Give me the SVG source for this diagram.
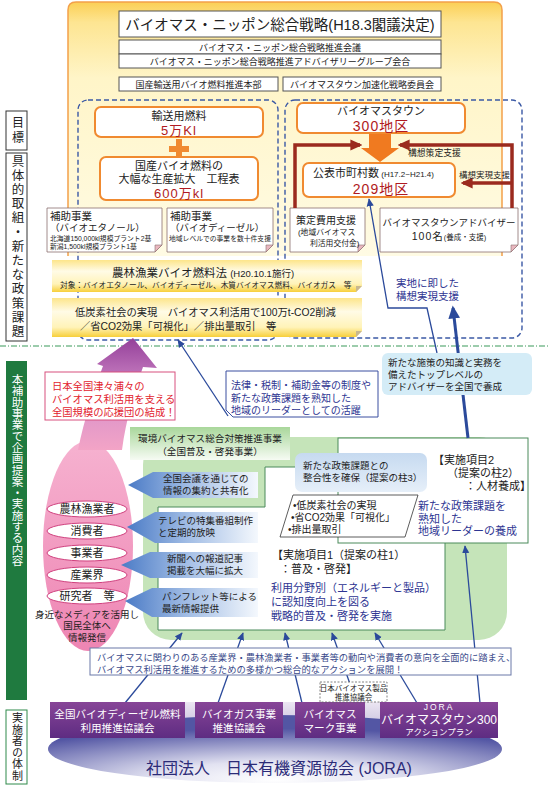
<svg xmlns="http://www.w3.org/2000/svg" width="550" height="788" viewBox="0 0 550 788">
<defs>
<style>
text{font-family:"Liberation Sans","Noto Sans CJK JP",sans-serif;fill:#222}
.c{text-anchor:middle}
.red{fill:#b01a22}
.blu{fill:#2e3592}
.wt{fill:#fff}
.ob{fill:#fff;stroke:#f08a30;stroke-width:2}
.gb{fill:#fff;stroke:#555;stroke-width:1}
.dash{fill:none;stroke:#3b59a5;stroke-width:1.4;stroke-dasharray:5 3}
.brn{fill:none;stroke:#9b2a1e;stroke-width:3.5}
.bl{fill:none;stroke:#2b4a9b;stroke-width:1.3}
.fold{fill:#fff;stroke:#8a7070;stroke-width:0.8}
.foldc{fill:#e9b7bf;stroke:#8a7070;stroke-width:0.6}
.call{fill:url(#gCall)}
.pill{fill:#fff;stroke:#d0407e;stroke-width:1}
.pbox{fill:url(#gPurp)}
.side{fill:#fff;stroke:#333;stroke-width:1}
.pk{fill:#e2232e}
.nt{fill:#3a4a8a}
</style>
<linearGradient id="gTop" x1="0" y1="0" x2="0" y2="1">
<stop offset="0" stop-color="#fbcf55"/><stop offset="0.08" stop-color="#fde592"/><stop offset="0.3" stop-color="#fff5c8"/><stop offset="1" stop-color="#fffbe4"/>
</linearGradient>
<linearGradient id="gBand" x1="0" y1="0" x2="0" y2="1">
<stop offset="0" stop-color="#fde58a"/><stop offset="0.35" stop-color="#fffbe6"/><stop offset="0.75" stop-color="#fff3b8"/><stop offset="1" stop-color="#f7cf3a"/>
</linearGradient>
<linearGradient id="gPinkArr" gradientUnits="userSpaceOnUse" x1="0" y1="450" x2="0" y2="338">
<stop offset="0" stop-color="#f3a4c6"/><stop offset="0.5" stop-color="#d58fcb"/><stop offset="1" stop-color="#94409a"/>
</linearGradient>
<linearGradient id="gPink" x1="0" y1="0" x2="0" y2="1">
<stop offset="0" stop-color="#f6b2d0"/><stop offset="1" stop-color="#ee85b3"/>
</linearGradient>
<linearGradient id="gCall" x1="0" y1="0" x2="1" y2="0">
<stop offset="0" stop-color="#4b7bc6"/><stop offset="0.45" stop-color="#9fbbe4"/><stop offset="1" stop-color="#f4f8fd"/>
</linearGradient>
<linearGradient id="gHead" x1="0" y1="0" x2="0" y2="1">
<stop offset="0" stop-color="#a9d79b"/><stop offset="1" stop-color="#f6fbf3"/>
</linearGradient>
<linearGradient id="gLB" x1="0" y1="0" x2="0" y2="1">
<stop offset="0" stop-color="#c6daf0"/><stop offset="1" stop-color="#e6eff9"/>
</linearGradient>
<linearGradient id="gPurp" x1="0" y1="0" x2="0" y2="1">
<stop offset="0" stop-color="#874597"/><stop offset="1" stop-color="#5e2c82"/>
</linearGradient>
<linearGradient id="gLav" x1="0" y1="0" x2="0" y2="1">
<stop offset="0" stop-color="#ece6f2"/><stop offset="1" stop-color="#b9b2d6"/>
</linearGradient>
<radialGradient id="gJora" cx="0.5" cy="0.95" r="0.75" fx="0.5" fy="0.95">
<stop offset="0" stop-color="#ffffff"/><stop offset="0.35" stop-color="#e2e2f1"/><stop offset="1" stop-color="#5356a4"/>
</radialGradient>
<marker id="ahB" viewBox="0 0 10 10" refX="9" refY="5" markerWidth="8" markerHeight="8" markerUnits="userSpaceOnUse" orient="auto">
<path d="M0,0.5 L10,5 L0,9.5 Z" fill="#2b4a9b"/>
</marker>
<marker id="ahT" viewBox="0 0 10 10" refX="8" refY="5" markerWidth="13" markerHeight="13" markerUnits="userSpaceOnUse" orient="auto">
<path d="M0,0.5 L10,5 L0,9.5 Z" fill="#2b4a9b"/>
</marker>
<marker id="ahR" viewBox="0 0 10 10" refX="8" refY="5" markerWidth="12" markerHeight="12" markerUnits="userSpaceOnUse" orient="auto">
<path d="M0,0.5 L10,5 L0,9.5 Z" fill="#9b2a1e"/>
</marker>
</defs>
<rect width="550" height="788" fill="#fff"/>

<!-- left column labels -->
<g id="label-goal">
<rect x="6" y="111" width="21" height="39" class="side"/>
<text x="16.5" y="131" class="c" font-size="12" writing-mode="vertical-rl" letter-spacing="3">目標</text>
</g>
<g id="label-measures">
<rect x="6" y="153" width="21" height="188" class="side"/>
<text x="16.5" y="247" class="c" font-size="12.5" writing-mode="vertical-rl" letter-spacing="1.7">具体的取組・新たな政策課題</text>
</g>
<g id="label-content">
<rect x="6" y="361" width="21" height="339" fill="#1f7a3f"/>
<text x="16.5" y="374" class="wt" font-size="11.5" writing-mode="vertical-rl" letter-spacing="-0.2">本補助事業で企画提案・実施する内容</text>
</g>
<g id="label-org">
<rect x="6" y="710" width="21" height="74" fill="#fff" stroke="#2f8a4a" stroke-width="1"/>
<text x="16.5" y="747" class="c" font-size="11" writing-mode="vertical-rl" letter-spacing="0.5">実施者の体制</text>
</g>

<!-- top strategy frame -->
<g id="strategy">
<path d="M68,256 V10 Q68,2 76,2 H494 Q502,2 502,10 V256" fill="url(#gTop)" stroke="#f3a04a" stroke-width="1.5"/>
<rect x="119" y="11" width="322" height="26" class="gb"/>
<text x="280" y="30" class="c" font-size="14.5">バイオマス・ニッポン総合戦略(H18.3閣議決定)</text>
<rect x="119" y="40" width="322" height="14" class="gb"/>
<text x="280" y="51" class="c" font-size="9">バイオマス・ニッポン総合戦略推進会議</text>
<rect x="119" y="54" width="322" height="14" class="gb"/>
<text x="280" y="65" class="c" font-size="9">バイオマス・ニッポン総合戦略推進アドバイザリーグループ会合</text>
</g>
<g id="biofuel-hq">
<rect x="119" y="77" width="159" height="14" class="gb"/>
<text x="198.5" y="88" class="c" font-size="9">国産輸送用バイオ燃料推進本部</text>
</g>
<g id="town-committee">
<rect x="283" y="77" width="158" height="14" class="gb"/>
<text x="362" y="88" class="c" font-size="9">バイオマスタウン加速化戦略委員会</text>
</g>

<rect x="78" y="100" width="200" height="240" rx="10" class="dash"/>
<rect x="285" y="100" width="237" height="238" rx="10" class="dash"/>

<g id="fuel-goal">
<rect x="95" y="107" width="168" height="30" rx="6" class="ob"/>
<text x="179" y="119.5" class="c" font-size="11">輸送用燃料</text>
<text x="179" y="134.5" class="c red" font-size="13" letter-spacing="1">5万Kl</text>
</g>
<g id="plus">
<rect x="169" y="146" width="20" height="6" fill="#f08a30"/>
<rect x="176" y="139" width="6" height="20" fill="#f08a30"/>
</g>
<g id="fuel-target">
<rect x="100" y="157" width="158" height="43" rx="6" class="ob"/>
<text x="179" y="170" class="c" font-size="11">国産バイオ燃料の</text>
<text x="179" y="183" class="c" font-size="11">大幅な生産拡大　工程表</text>
<text x="179" y="198" class="c red" font-size="13" letter-spacing="1">600万kl</text>
</g>

<g id="town-goal">
<rect x="297" y="103" width="168" height="30" rx="6" class="ob"/>
<text x="381" y="115" class="c" font-size="11">バイオマスタウン</text>
<text x="381" y="130.5" class="c red" font-size="14" letter-spacing="1">300地区</text>
</g>
<g id="big-arrow">
<path d="M369,134 H391 V148 H399 L380,162 L361,148 H369 Z" fill="#f07a20"/>
</g>
<g id="town-count">
<rect x="303" y="163" width="152" height="34" rx="6" class="ob"/>
<text x="313" y="177" font-size="11">公表市町村数<tspan font-size="8"> (H17.2~H21.4)</tspan></text>
<text x="381" y="193.5" class="c red" font-size="14" letter-spacing="1">209地区</text>
</g>

<g id="subsidy-ethanol">
<path d="M47,208 H162 V245 L155,252 H47 Z" class="fold"/>
<path d="M162,245 L155,245 L155,252 Z" class="foldc"/>
<text x="50" y="220" font-size="10.5">補助事業</text>
<text x="50" y="231" font-size="9.5">（バイオエタノール）</text>
<text x="50" y="240.5" font-size="6.8">北海道150,000kl規模プラント2基</text>
<text x="50" y="249" font-size="6.8">新潟1,500kl規模プラント1基</text>
</g>
<g id="subsidy-diesel">
<path d="M167,208 H273 V245 L266,252 H167 Z" class="fold"/>
<path d="M273,245 L266,245 L266,252 Z" class="foldc"/>
<text x="170" y="220" font-size="10.5">補助事業</text>
<text x="170" y="231" font-size="9.5">（バイオディーゼル）</text>
<text x="169" y="241" font-size="6.8">地域レベルでの事業を数十件支援</text>
</g>
<g id="plan-cost">
<path d="M290,208 H365 V245 L358,252 H290 Z" class="fold"/>
<path d="M365,245 L358,245 L358,252 Z" class="foldc"/>
<text x="296" y="224" font-size="10">策定費用支援</text>
<text x="298" y="235" font-size="7.8">(地域バイオマス</text>
<text x="310" y="246" font-size="7.8">利活用交付金)</text>
</g>
<g id="town-advisor">
<path d="M380,208 H518 V245 L511,252 H380 Z" class="fold"/>
<path d="M518,245 L511,245 L511,252 Z" class="foldc"/>
<text x="449" y="226" class="c" font-size="9.5">バイオマスタウンアドバイザー</text>
<text x="449" y="240" class="c" font-size="10.5" letter-spacing="1">100名<tspan font-size="7.5" letter-spacing="0">(養成・支援)</tspan></text>
</g>

<g id="biofuel-law">
<path d="M52,260 H362 V286 L356,292 H52 Z" fill="url(#gBand)"/>
<path d="M362,286 L356,286 L356,292 Z" fill="#c8b890"/>
<text x="203" y="276.5" class="c" font-size="11.5">農林漁業バイオ燃料法 <tspan font-size="9.5">(H20.10.1施行)</tspan></text>
<text x="60" y="287.5" font-size="7.7">対象：バイオエタノール、バイオディーゼル、木質バイオマス燃料、バイオガス　等</text>
</g>
<g id="low-carbon">
<path d="M52,298 H362 V331 L356,337 H52 Z" fill="url(#gBand)"/>
<path d="M362,331 L356,331 L356,337 Z" fill="#c8b890"/>
<text x="75" y="316" font-size="10.3">低炭素社会の実現　バイオマス利活用で100万t-CO2削減</text>
<text x="80" y="330" font-size="10.3">／省CO2効果「可視化」／排出量取引　等</text>
</g>

<line x1="0" y1="346" x2="550" y2="346" stroke="#3a9a5a" stroke-width="1.2" stroke-dasharray="6 2 1 2"/>

<!-- green program area -->
<g id="program-area">
<rect x="143" y="437" width="364" height="203" rx="28" fill="#c5e4b9"/>
<rect x="130" y="427" width="160" height="33" fill="url(#gHead)"/>
<text x="210" y="442" class="c" font-size="9.6">環境バイオマス総合対策推進事業</text>
<text x="210" y="455" class="c" font-size="9.6">（全国普及・啓発事業）</text>
</g>
<g id="item1">
<path d="M158,507 H265 V467 H445 V630 H158 Z" fill="#fff" stroke="#4a8a5a" stroke-width="1"/>
<text x="272" y="559" font-size="11">【実施項目1（提案の柱1）</text>
<text x="280" y="573" font-size="11">：普及・啓発】</text>
<text x="271" y="592" class="blu" font-size="11">利用分野別（エネルギーと製品）</text>
<text x="271" y="606" class="blu" font-size="11">に認知度向上を図る</text>
<text x="271" y="620" class="blu" font-size="11">戦略的普及・啓発を実施</text>
</g>
<g id="item2">
<rect x="338" y="438" width="190" height="105" fill="#fff" stroke="#4a8a5a" stroke-width="1"/>
<text x="433" y="464" font-size="11">【実施項目2</text>
<text x="447" y="477" font-size="11">（提案の柱2）</text>
<text x="465" y="490" font-size="11">：人材養成】</text>
<text x="418" y="510" class="blu" font-size="11">新たな政策課題を</text>
<text x="418" y="522.5" class="blu" font-size="11">熟知した</text>
<text x="418" y="535" class="blu" font-size="11">地域リーダーの養成</text>
</g>
<g id="item3">
<rect x="295" y="453" width="132" height="39" rx="7" fill="url(#gLB)"/>
<text x="303" y="469" font-size="9.5">新たな政策課題との</text>
<text x="303" y="481" font-size="9.5">整合性を確保（提案の柱3）</text>
</g>
<g id="policy-list">
<polygon points="293,495 418,495 405,537 280,537" fill="#fff" stroke="#333" stroke-width="0.8"/>
<text x="293" y="509" font-size="10">•低炭素社会の実現</text>
<text x="291" y="521" font-size="10">•省CO2効果「可視化」</text>
<text x="288" y="533" font-size="10">•排出量取引</text>
</g>

<!-- pink supporters -->
<g id="supporters">
<ellipse cx="88" cy="546" rx="45" ry="105" fill="url(#gPink)"/>
<path d="M78,450 C84,420 94,390 103,366 L97,364 L133,338 L157,368 L143,367 C134,392 126,420 122,450 Z" fill="url(#gPinkArr)"/>
<ellipse cx="87" cy="509" rx="40" ry="8" class="pill"/>
<text x="87" y="513" class="c" font-size="11">農林漁業者</text>
<ellipse cx="87" cy="531" rx="40" ry="8" class="pill"/>
<text x="87" y="535" class="c" font-size="11">消費者</text>
<ellipse cx="87" cy="553" rx="40" ry="8" class="pill"/>
<text x="87" y="557" class="c" font-size="11">事業者</text>
<ellipse cx="87" cy="575" rx="40" ry="8" class="pill"/>
<text x="87" y="579" class="c" font-size="11">産業界</text>
<ellipse cx="87" cy="596" rx="40" ry="8" class="pill"/>
<text x="87" y="600" class="c" font-size="11">研究者　等</text>
<text x="87" y="618" class="c" font-size="9.5">身近なメディアを活用し</text>
<text x="87" y="629" class="c" font-size="9.5">国民全体へ</text>
<text x="87" y="640.5" class="c" font-size="9.5">情報発信</text>
</g>

<!-- connectors -->
<g id="connectors">
<polyline points="295,208 295,145 360,145" class="brn" marker-end="url(#ahR)"/>
<polyline points="512,208 512,145 400,145" class="brn" marker-end="url(#ahR)"/>
<line x1="512" y1="183" x2="463" y2="183" class="brn" marker-end="url(#ahR)"/>
<polyline points="437,353 427,308 388,308 369,199" class="bl" marker-end="url(#ahB)"/>
<line x1="468" y1="438" x2="453" y2="308" stroke="#2b4a9b" stroke-width="3" marker-end="url(#ahT)"/>
<line x1="228" y1="416" x2="178" y2="340" class="bl" marker-end="url(#ahB)"/>
<line x1="125" y1="703" x2="182" y2="633" class="bl" marker-end="url(#ahB)"/>
<line x1="218" y1="703" x2="243" y2="633" class="bl" marker-end="url(#ahB)"/>
<line x1="302" y1="703" x2="285" y2="633" class="bl" marker-end="url(#ahB)"/>
<line x1="350" y1="684" x2="332" y2="633" class="bl" marker-end="url(#ahB)"/>
<line x1="417" y1="703" x2="375" y2="633" class="bl" marker-end="url(#ahB)"/>
<line x1="480" y1="703" x2="465" y2="546" class="bl" marker-end="url(#ahB)"/>
</g>
<text x="396" y="287" class="blu" font-size="10.5">実地に即した</text>
<text x="396" y="300" class="blu" font-size="10.5">構想実現支援</text>
<text x="408" y="156" font-size="8.8">構想策定支援</text>
<text x="459" y="178" font-size="8.5">構想実現支援</text>

<g id="top-advisor">
<rect x="382" y="353" width="150" height="42" rx="6" fill="#d4ecf7"/>
<text x="388" y="366" font-size="9.5">新たな施策の知識と実務を</text>
<text x="388" y="378" font-size="9.5">備えたトップレベルの</text>
<text x="388" y="390" font-size="9.5">アドバイザーを全国で養成</text>
</g>
<g id="local-leader">
<path d="M226,371 H378 V417 H233 L226,410 Z" fill="#fff" stroke="#3b4fa0" stroke-width="1"/>
<text x="231" y="389" class="blu" font-size="10">法律・税制・補助金等の制度や</text>
<text x="231" y="402" class="blu" font-size="10">新たな政策課題を熟知した</text>
<text x="231" y="414" class="blu" font-size="10">地域のリーダーとしての活躍</text>
</g>
<g id="cheer-team">
<rect x="45" y="372" width="130" height="48" fill="#fff" stroke="#d8507e" stroke-width="1"/>
<text x="52" y="390" class="pk" font-size="10.3">日本全国津々浦々の</text>
<text x="52" y="403" class="pk" font-size="10.3">バイオマス利活用を支える</text>
<text x="52" y="416" class="pk" font-size="10.3">全国規模の応援団の結成！</text>
</g>

<g id="media-meeting">
<path d="M128,485 L153,472 H258 V498 H153 Z" class="call"/>
<text x="163" y="482" font-size="9.5">全国会議を通じての</text>
<text x="163" y="494" font-size="9.5">情報の集約と共有化</text>
</g>
<g id="media-tv">
<path d="M127,527 L155,512 H258 V543 H155 Z" class="call"/>
<text x="158" y="524" font-size="9.5">テレビの特集番組制作</text>
<text x="158" y="536" font-size="9.5">と定期的放映</text>
</g>
<g id="media-news">
<path d="M121,565 L150,552 H258 V578 H150 Z" class="call"/>
<text x="167" y="562" font-size="9.5">新聞への報道記事</text>
<text x="167" y="574" font-size="9.5">掲載を大幅に拡大</text>
</g>
<g id="media-pamphlet">
<path d="M125,601 L152,588 H258 V617 H152 Z" class="call"/>
<text x="162" y="600" font-size="9.5">パンフレット等による</text>
<text x="162" y="612" font-size="9.5">最新情報提供</text>
</g>

<g id="action-note">
<rect x="90" y="648" width="421" height="27" fill="#fff" stroke="#6a78a8" stroke-width="1"/>
<text x="97" y="660.5" font-size="9.3" class="nt">バイオマスに関わりのある産業界・農林漁業者・事業者等の動向や消費者の意向を全面的に踏まえ、</text>
<text x="97" y="672.5" font-size="9.3" class="nt">バイオマス利活用を推進するための多様かつ総合的なアクションを展開！</text>
</g>

<g id="jora">
<rect x="50" y="702" width="448" height="36" fill="url(#gLav)"/>
<ellipse cx="275" cy="749" rx="227" ry="34" fill="url(#gJora)"/>
<text x="279" y="774" class="c" font-size="16" style="fill:#2b2b78">社団法人　日本有機資源協会 (JORA)</text>
</g>
<g id="bdf-council">
<rect x="50" y="702" width="135" height="36" class="pbox"/>
<text x="117.5" y="717.5" class="c wt" font-size="10.6">全国バイオディーゼル燃料</text>
<text x="117.5" y="732" class="c wt" font-size="10.6">利用推進協議会</text>
</g>
<g id="biogas-council">
<rect x="195" y="702" width="88" height="36" class="pbox"/>
<text x="239" y="717.5" class="c wt" font-size="10.6">バイオガス事業</text>
<text x="239" y="732" class="c wt" font-size="10.6">推進協議会</text>
</g>
<g id="mark-project">
<rect x="295" y="702" width="70" height="36" class="pbox"/>
<text x="330" y="717.5" class="c wt" font-size="10.6">バイオマス</text>
<text x="330" y="732" class="c wt" font-size="10.6">マーク事業</text>
</g>
<g id="product-council">
<rect x="320" y="682" width="67" height="20" fill="#fff" stroke="#666" stroke-width="0.8" stroke-dasharray="2 1.5"/>
<text x="353.5" y="691" class="c" font-size="7.5">日本バイオマス製品</text>
<text x="353.5" y="700" class="c" font-size="7.5">推進協議会</text>
</g>
<g id="town300">
<rect x="380" y="702" width="118" height="36" class="pbox"/>
<text x="439" y="710" class="c wt" font-size="8.5" letter-spacing="2">JORA</text>
<text x="439" y="724" class="c wt" font-size="12">バイオマスタウン300</text>
<text x="439" y="735" class="c wt" font-size="8.5">アクションプラン</text>
</g>
</svg>
